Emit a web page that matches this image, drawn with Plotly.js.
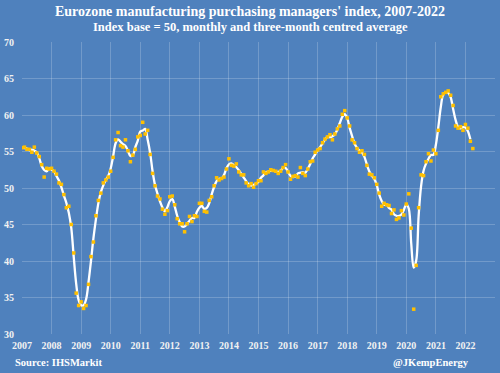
<!DOCTYPE html>
<html>
<head>
<meta charset="utf-8">
<script src="https://cdn.plot.ly/plotly-3.0.1.min.js"></script>
<style>html,body{margin:0;padding:0;background:#4f81bd;}#chart{width:500px;height:373px;}</style>
</head>
<body>
<div id="chart"></div>
<script>
// Monthly Eurozone manufacturing PMI values, Jan 2007 - Apr 2022
const pmi2007 = [55.5,55.6,55.3,55.3,54.9,55.6,54.8,54.3,53.2,51.5,52.7,52.6];
const pmi2008 = [52.7,52.3,51.9,50.7,50.5,49.1,47.3,47.5,45.0,41.1,35.6,33.9];
const pmi2009 = [34.4,33.5,33.9,36.8,40.6,42.6,46.2,48.3,49.3,50.7,51.1,51.5];
const pmi2010 = [52.3,54.2,56.6,57.6,55.8,55.6,56.6,55.1,53.6,54.5,55.3,57.0];
const pmi2011 = [57.2,59.0,57.4,57.9,54.6,52.0,50.3,48.9,48.5,47.1,46.4,46.9];
const pmi2012 = [48.8,48.9,47.7,45.8,45.1,45.1,44.0,45.1,46.1,45.4,46.2,46.1];
const pmi2013 = [47.9,47.9,46.8,46.7,48.3,48.8,50.3,51.4,51.1,51.3,51.5,52.6];
const pmi2014 = [54.0,53.1,53.0,53.3,52.2,51.8,51.8,50.7,50.3,50.6,50.1,50.6];
const pmi2015 = [51.0,51.0,52.2,52.0,52.2,52.5,52.4,52.3,52.0,52.3,52.8,53.2];
const pmi2016 = [52.2,51.2,51.6,51.7,51.5,52.8,52.0,51.7,52.6,53.6,53.7,54.9];
const pmi2017 = [55.2,55.4,56.2,56.7,57.0,57.3,56.6,57.4,58.1,58.5,60.1,60.6];
const pmi2018 = [59.6,58.5,56.6,56.2,55.4,54.9,55.1,54.6,53.1,51.9,51.8,51.4];
const pmi2019 = [50.5,49.3,47.5,47.9,47.7,47.6,46.5,47.0,45.7,45.9,46.9,46.3];
const pmi2020 = [47.8,49.2,44.5,33.4,39.4,47.3,51.8,51.7,53.6,54.7,53.7,55.2];
const pmi2021 = [54.7,57.9,62.5,62.9,63.1,63.3,62.7,61.3,58.5,58.2,58.4,57.9];
const pmi2022 = [58.7,58.2,56.4,55.4];

const startYear = 2007;
const yearTicks = [2007,2008,2009,2010,2011,2012,2013,2014,2015,2016,2017,2018,2019,2020,2021,2022,2023];
const yearLabels = ["2007","2008","2009","2010","2011","2012","2013","2014","2015","2016","2017","2018","2019","2020","2021","2022",""];

const monthly = [].concat(pmi2007,pmi2008,pmi2009,pmi2010,pmi2011,pmi2012,pmi2013,pmi2014,pmi2015,pmi2016,pmi2017,pmi2018,pmi2019,pmi2020,pmi2021,pmi2022);
const xMonthly = monthly.map((v,i)=> startYear + i/12);

// three-month centred average (as in the chart's subtitle)
const avgX = [], avgY = [];
for (let i = 0; i < monthly.length - 1; i++) {
  const win = [monthly[i-1], monthly[i], monthly[i+1]].filter(v => v !== undefined);
  avgX.push(xMonthly[i]);
  avgY.push(win.reduce((a,b)=>a+b,0)/win.length);
}

const bg = '#4f81bd';
const serif = 'Liberation Serif, Times New Roman, serif';

const traces = [
  {x: avgX, y: avgY, type:'scatter', mode:'lines', line:{color:'#ffffff', width:2.3, shape:'spline', smoothing:1}, hoverinfo:'skip'},
  {x: xMonthly, y: monthly, type:'scatter', mode:'markers', marker:{color:'#ffc000', size:3.5, symbol:'square'}}
];

const layout = {
  width: 500, height: 373,
  paper_bgcolor: bg, plot_bgcolor: bg,
  showlegend: false,
  margin: {l:22, r:5, t:42, b:39},
  xaxis: {
    range: [2007, 2023], tickvals: yearTicks, ticktext: yearLabels,
    showgrid: true, gridcolor: 'rgba(255,255,255,0.2)', gridwidth: 1,
    zeroline: false, showline: false, ticks: '',
    tickfont: {family: serif, size: 10, color: '#f2f2f2', weight: 'bold'},
    ticklabelstandoff: 4
  },
  yaxis: {
    range: [30, 70], tickvals: [30,35,40,45,50,55,60,65,70],
    showgrid: true, gridcolor: 'rgba(255,255,255,0.2)', gridwidth: 1,
    zeroline: false, showline: false, ticks: '',
    tickfont: {family: serif, size: 10, color: '#f2f2f2', weight: 'bold'},
    ticklabelstandoff: 7
  },
  annotations: [
    {text: "Eurozone manufacturing purchasing managers' index, 2007-2022", xref:'paper', yref:'paper', x:0.483, y:1.104, xanchor:'center', yanchor:'middle', showarrow:false,
     font:{family: serif, size: 14, color:'#ffffff', weight:'bold'}},
    {text: "Index base = 50, monthly and three-month centred average", xref:'paper', yref:'paper', x:0.483, y:1.052, xanchor:'center', yanchor:'middle', showarrow:false,
     font:{family: serif, size: 12.5, color:'#ffffff', weight:'bold'}},
    {text: "Source: IHSMarkit", xref:'paper', yref:'paper', x:-0.019, y:-0.099, xanchor:'left', yanchor:'middle', showarrow:false,
     font:{family: serif, size: 10.5, color:'#ffffff', weight:'bold'}},
    {text: "@JKempEnergy", xref:'paper', yref:'paper', x:0.865, y:-0.099, xanchor:'center', yanchor:'middle', showarrow:false,
     font:{family: serif, size: 10.5, color:'#ffffff', weight:'bold'}}
  ]
};

Plotly.newPlot('chart', traces, layout, {displayModeBar:false, staticPlot:true});
</script>
</body>
</html>
